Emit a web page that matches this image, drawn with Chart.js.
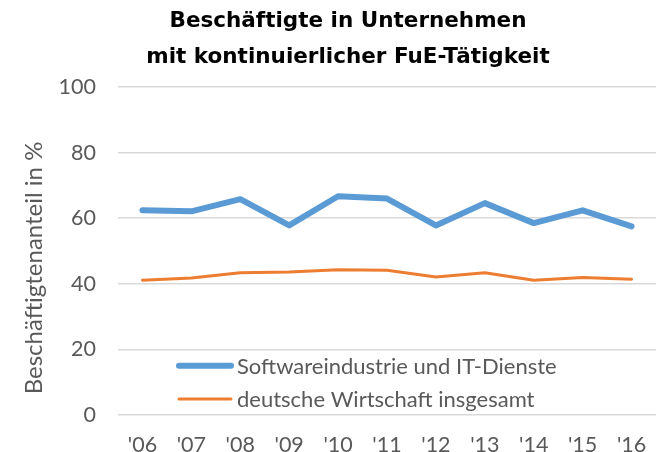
<!DOCTYPE html>
<html>
<head>
<meta charset="utf-8">
<script src="https://cdn.jsdelivr.net/npm/chart.js@4.4.1/dist/chart.umd.min.js"></script>
<style>
  body { margin: 0; background: #fff; }
  #wrap { width: 666px; height: 452px; position: relative; }
</style>
</head>
<body>
<div id="wrap"><canvas id="fueChart"></canvas></div>
<script>
// values
const years = ["'06", "'07", "'08", "'09", "'10", "'11", "'12", "'13", "'14", "'15", "'16"];
const software = [62.4, 62.1, 65.8, 57.8, 66.7, 66.0, 57.8, 64.6, 58.5, 62.4, 57.5];
const gesamt = [41.1, 41.8, 43.4, 43.6, 44.3, 44.1, 42.1, 43.4, 41.1, 41.9, 41.4];
const seriesNames = ['Softwareindustrie und IT-Dienste', 'deutsche Wirtschaft insgesamt'];
const titleLines = ['Beschäftigte in Unternehmen', 'mit kontinuierlicher FuE-Tätigkeit'];
const yTitle = 'Beschäftigtenanteil in %';

const grey = '#595959';
const labelFont = { family: 'Lato', size: 21.5 };

// title, y axis title and the legend inside the plot are drawn by hand
const extras = {
  id: 'extras',
  afterDraw(chart) {
    const c = chart.ctx;
    c.save();
    c.beginPath();
    c.rect(0, 0, chart.width, 68);
    c.clip();
    c.fillStyle = '#000';
    c.font = 'bold 21.5px "DejaVu Sans"';
    c.textAlign = 'center';
    c.textBaseline = 'alphabetic';
    c.fillText(titleLines[0], 348, 27);
    c.fillText(titleLines[1], 348, 63);
    c.restore();

    c.save();
    c.translate(34, 268);
    c.rotate(-Math.PI / 2);
    c.fillStyle = grey;
    c.font = '24px Lato';
    c.textAlign = 'center';
    c.textBaseline = 'middle';
    c.fillText(yTitle, 0, 0);
    c.restore();

    const rows = [365.7, 399];
    c.save();
    chart.data.datasets.forEach((ds, i) => {
      c.strokeStyle = ds.borderColor;
      c.lineWidth = ds.borderWidth;
      c.lineCap = 'round';
      c.beginPath();
      c.moveTo(179, rows[i]);
      c.lineTo(231, rows[i]);
      c.stroke();
      c.fillStyle = grey;
      c.font = '22px Lato';
      c.textAlign = 'left';
      c.textBaseline = 'middle';
      c.fillText(ds.label, 237, rows[i] + 1);
    });
    c.restore();
  }
};

new Chart(document.getElementById('fueChart'), {
  type: 'line',
  data: {
    labels: years,
    datasets: [{
      label: seriesNames[0],
      data: software,
      borderColor: '#5B9BD5',
      borderWidth: 6,
      pointRadius: 0,
      borderCapStyle: 'round',
      borderJoinStyle: 'round'
    }, {
      label: seriesNames[1],
      data: gesamt,
      borderColor: '#ED7D31',
      borderWidth: 3,
      pointRadius: 0,
      borderCapStyle: 'round',
      borderJoinStyle: 'round'
    }]
  },
  options: {
    responsive: true,
    maintainAspectRatio: false,
    animation: false,
    layout: { padding: { top: 87, right: 10, left: 0, bottom: 0 } },
    plugins: {
      legend: { display: false },
      tooltip: { enabled: false }
    },
    scales: {
      x: {
        offset: true,
        grid: { display: false, drawTicks: false },
        border: { display: false },
        ticks: { color: grey, font: labelFont, padding: 17, maxRotation: 0 },
        afterFit(scale) { scale.height = 37; }
      },
      y: {
        min: 0,
        max: 100,
        ticks: { stepSize: 20, color: grey, font: labelFont, padding: 22 },
        grid: { color: '#d9d9d9', lineWidth: 1.5, drawTicks: false },
        border: { display: false },
        afterFit(scale) { scale.width = 118; }
      }
    }
  },
  plugins: [extras]
});
</script>
</body>
</html>
